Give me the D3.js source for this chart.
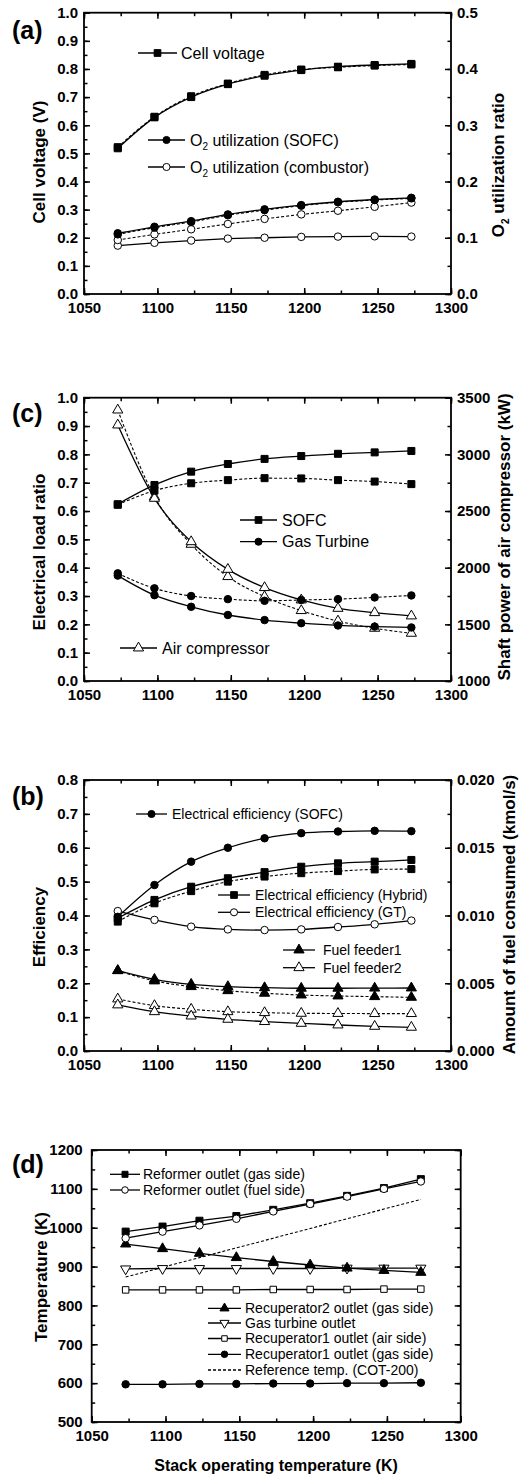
<!DOCTYPE html>
<html>
<head>
<meta charset="utf-8">
<script src="https://cdn.jsdelivr.net/npm/d3@7"></script>
<style>
  body { margin: 0; background: #fff; }
</style>
</head>
<body>
<script>
// ---- data ----
var stackTemp = [1073, 1098, 1123, 1148, 1173, 1198, 1223, 1248, 1273];

// (a) cell voltage (V, left) and O2 utilization ratio (right)
var cellVoltSolid  = [0.518, 0.628, 0.700, 0.746, 0.776, 0.796, 0.808, 0.814, 0.818];
var cellVoltDashed = [0.522, 0.630, 0.703, 0.748, 0.779, 0.798, 0.806, 0.812, 0.816];
var o2SofcSolid    = [0.108, 0.1195, 0.1295, 0.1415, 0.1505, 0.158, 0.164, 0.168, 0.171];
var o2SofcDashed   = [0.106, 0.118, 0.128, 0.140, 0.149, 0.157, 0.163, 0.167, 0.170];
var o2CombSolid    = [0.086, 0.091, 0.095, 0.0985, 0.100, 0.1015, 0.102, 0.1025, 0.102];
var o2CombDashed   = [0.096, 0.106, 0.115, 0.1245, 0.1335, 0.1415, 0.148, 0.155, 0.1625];

// (c) electrical load ratio (left) and shaft power of air compressor (kW, right)
var sofcLoadSolid  = [0.624, 0.692, 0.739, 0.766, 0.784, 0.794, 0.802, 0.807, 0.812];
var sofcLoadDashed = [0.622, 0.672, 0.698, 0.709, 0.716, 0.715, 0.709, 0.704, 0.695];
var gtLoadSolid    = [0.372, 0.303, 0.262, 0.233, 0.215, 0.204, 0.196, 0.192, 0.189];
var gtLoadDashed   = [0.380, 0.327, 0.300, 0.289, 0.283, 0.286, 0.289, 0.295, 0.302];
var airCompSolid   = [3259, 2612, 2229, 1985, 1824, 1715, 1641, 1603, 1574];
var airCompDashed  = [3391, 2626, 2206, 1921, 1744, 1621, 1529, 1465, 1421];

// (b) efficiency (left) and amount of fuel consumed (kmol/s, right)
var effSofc         = [0.396, 0.490, 0.559, 0.600, 0.628, 0.643, 0.648, 0.650, 0.649];
var effHybridSolid  = [0.392, 0.446, 0.485, 0.510, 0.528, 0.544, 0.554, 0.559, 0.564];
var effHybridDashed = [0.382, 0.436, 0.472, 0.500, 0.515, 0.525, 0.531, 0.536, 0.537];
var effGt           = [0.413, 0.387, 0.367, 0.359, 0.357, 0.359, 0.366, 0.374, 0.385];
var feeder1Solid    = [0.00593, 0.00529, 0.00492, 0.00475, 0.00467, 0.00463, 0.00463, 0.00464, 0.00465];
var feeder1Dashed   = [0.00593, 0.00517, 0.00475, 0.00445, 0.00426, 0.00413, 0.00406, 0.00401, 0.00396];
var feeder2Solid    = [0.00340, 0.00290, 0.00258, 0.00234, 0.00217, 0.00204, 0.00192, 0.00182, 0.00175];
var feeder2Dashed   = [0.00384, 0.00335, 0.00308, 0.00290, 0.00283, 0.00278, 0.00277, 0.00276, 0.00276];

// (d) temperatures (K)
var reformerGas  = [990, 1003, 1018, 1030, 1046, 1063, 1082, 1102, 1125];
var reformerFuel = [973, 990, 1006, 1023, 1042, 1061, 1080, 1100, 1119];
var recup2Gas    = [958, 946, 934, 923, 913, 904, 896, 890, 885];
var gtOutlet     = [894, 895, 895, 895, 895, 895, 896, 896, 896];
var recup1Air    = [840, 840, 840, 840, 841, 841, 841, 842, 842];
var recup1Gas    = [597, 597, 598, 598, 599, 599, 600, 600, 601];
var refTemp      = [873, 898, 923, 948, 973, 998, 1023, 1048, 1073];

var xTickLabels = [1050, 1100, 1150, 1200, 1250, 1300];

// ---- drawing ----
var FONT = "'Liberation Sans', Arial, Helvetica, sans-serif";

var svg = d3.select("body").append("svg")
    .attr("width", 524)
    .attr("height", 1475)
    .style("font-family", FONT);

function steps(d0, d1, step) {
    var n = Math.round((d1 - d0) / step);
    return d3.range(n + 1).map(function (i) { return +(d0 + i * step).toFixed(6); });
}

function styleAxis(sel, size) {
    sel.attr("font-family", null).attr("font-size", null);
    sel.select(".domain").remove();
    sel.selectAll(".tick line").attr("stroke", "#000").attr("stroke-width", 1.5);
    sel.selectAll(".tick text")
        .attr("fill", "#000")
        .style("font-size", (size || 15) + "px")
        .style("font-weight", "bold");
}

function symbolPath(shape, size) {
    var t = {square: d3.symbolSquare, circle: d3.symbolCircle,
             triangle: d3.symbolTriangle, triangleDown: d3.symbolTriangle}[shape];
    return d3.symbol().type(t).size(size)();
}

function drawMarker(g, shape, filled, size, cx, cy) {
    g.append("path")
        .attr("d", symbolPath(shape, size))
        .attr("transform", "translate(" + cx + "," + cy + ")" + (shape === "triangleDown" ? " rotate(180)" : ""))
        .attr("fill", filled ? "#000" : "#fff")
        .attr("stroke", "#000")
        .attr("stroke-width", 1);
}

// box: left,right,top,bottom ; y/y2: {domain, step, fmt}
function makePanel(box, y, y2) {
    var g = svg.append("g");
    var x = d3.scaleLinear().domain([1050, 1300]).range([box.left, box.right]);
    var yL = d3.scaleLinear().domain(y.domain).range([box.bottom, box.top]);
    var yR = y2 ? d3.scaleLinear().domain(y2.domain).range([box.bottom, box.top]) : null;

    var xMaj = xTickLabels, xMin = steps(1050, 1300, 25);
    var yMaj = steps(y.domain[0], y.domain[1], y.step);
    var yMin = steps(y.domain[0], y.domain[1], y.step / 2);

    // x axes (bottom labelled, top unlabelled), ticks inward
    g.append("g").attr("transform", "translate(0," + box.bottom + ")")
        .call(d3.axisBottom(x).tickValues(xMin).tickSize(-3.5).tickFormat(""))
        .call(styleAxis);
    g.append("g").attr("transform", "translate(0," + box.bottom + ")")
        .call(d3.axisBottom(x).tickValues(xMaj).tickSize(-6).tickPadding(8).tickFormat(d3.format("d")))
        .call(styleAxis);
    g.append("g").attr("transform", "translate(0," + box.top + ")")
        .call(d3.axisTop(x).tickValues(xMin).tickSize(-3.5).tickFormat(""))
        .call(styleAxis);
    g.append("g").attr("transform", "translate(0," + box.top + ")")
        .call(d3.axisTop(x).tickValues(xMaj).tickSize(-6).tickFormat(""))
        .call(styleAxis);

    // left axis
    g.append("g").attr("transform", "translate(" + box.left + ",0)")
        .call(d3.axisLeft(yL).tickValues(yMin).tickSize(-3.5).tickFormat(""))
        .call(styleAxis);
    g.append("g").attr("transform", "translate(" + box.left + ",0)")
        .call(d3.axisLeft(yL).tickValues(yMaj).tickSize(-6).tickPadding(y.pad || 6).tickFormat(d3.format(y.fmt)))
        .call(styleAxis);

    // right axis
    var rScale = yR || yL, rDef = y2 || y;
    var rMaj = steps(rDef.domain[0], rDef.domain[1], rDef.step);
    var rMin = steps(rDef.domain[0], rDef.domain[1], rDef.step / 2);
    g.append("g").attr("transform", "translate(" + box.right + ",0)")
        .call(d3.axisRight(rScale).tickValues(rMin).tickSize(-3.5).tickFormat(""))
        .call(styleAxis);
    g.append("g").attr("transform", "translate(" + box.right + ",0)")
        .call(d3.axisRight(rScale).tickValues(rMaj).tickSize(-6).tickPadding(6)
            .tickFormat(y2 ? d3.format(y2.fmt) : ""))
        .call(styleAxis);

    g.append("rect")
        .attr("x", box.left).attr("y", box.top)
        .attr("width", box.right - box.left).attr("height", box.bottom - box.top)
        .attr("fill", "none").attr("stroke", "#000").attr("stroke-width", 1.8);

    return {g: g, x: x, yL: yL, yR: yR};
}

// series: {values, axis:'L'|'R', dashed, shape, filled, size, curve}
function drawSeries(p, list) {
    var lines = p.g.append("g"), marks = p.g.append("g");
    list.forEach(function (s) {
        var ys = s.axis === "R" ? p.yR : p.yL;
        var pts = stackTemp.map(function (t, i) { return [t, s.values[i]]; });
        var line = d3.line()
            .x(function (d) { return p.x(d[0]); })
            .y(function (d) { return ys(d[1]); })
            .curve(s.curve || d3.curveMonotoneX);
        lines.append("path")
            .datum(pts)
            .attr("d", line)
            .attr("fill", "none")
            .attr("stroke", "#000")
            .attr("stroke-width", s.dashed ? 1.1 : 1.3)
            .attr("stroke-dasharray", s.dashed ? "3,2" : null);
        if (s.shape) {
            pts.forEach(function (d) {
                drawMarker(marks, s.shape, s.filled, s.size || 45, p.x(d[0]), ys(d[1]));
            });
        }
    });
}

// legend row; parts = [{t, sub}]
function legendRow(x1, x2, tx, y, parts, shape, filled, fs, opt) {
    opt = opt || {};
    var g = svg.append("g");
    g.append("line")
        .attr("x1", x1).attr("x2", x2).attr("y1", y).attr("y2", y)
        .attr("stroke", "#000").attr("stroke-width", 1.3)
        .attr("stroke-dasharray", opt.dashed ? "3,2" : null);
    if (shape) drawMarker(g, shape, filled, opt.size || 40, (x1 + x2) / 2, y);
    var t = g.append("text")
        .attr("x", tx).attr("y", y + fs * 0.35)
        .style("font-size", fs + "px")
        .attr("fill", "#000");
    addParts(t, parts, fs);
}

function addParts(t, parts, fs) {
    if (typeof parts === "string") { t.text(parts); return; }
    var shift = 0;
    parts.forEach(function (p) {
        var sp = t.append("tspan").text(p.t);
        if (p.sub) {
            sp.style("font-size", Math.round(fs * 0.6) + "px").attr("dy", fs * 0.3 - shift);
            shift = fs * 0.3;
        } else {
            sp.attr("dy", -shift);
            shift = 0;
        }
    });
}

function axisTitle(x, y, parts, fs, rotate) {
    var t = svg.append("text")
        .attr("text-anchor", "middle")
        .attr("transform", "translate(" + x + "," + y + ")" + (rotate ? " rotate(-90)" : ""))
        .style("font-size", fs + "px")
        .style("font-weight", "bold")
        .attr("fill", "#000");
    addParts(t, parts, fs);
}

function panelLabel(x, y, txt) {
    svg.append("text")
        .attr("x", x).attr("y", y)
        .style("font-size", "25px").style("font-weight", "bold")
        .attr("fill", "#000")
        .text(txt);
}

// ---------- (a) ----------
var pa = makePanel({left: 84, right: 451, top: 12.7, bottom: 294},
    {domain: [0, 1], step: 0.1, fmt: ".1f"},
    {domain: [0, 0.5], step: 0.1, fmt: ".1f"});
drawSeries(pa, [
    {values: cellVoltDashed, dashed: true, shape: "square", filled: true, size: 49},
    {values: cellVoltSolid, shape: "square", filled: true, size: 49},
    {values: o2CombSolid, axis: "R", shape: "circle", filled: false, size: 44, curve: d3.curveLinear},
    {values: o2CombDashed, axis: "R", dashed: true, shape: "circle", filled: false, size: 44, curve: d3.curveLinear},
    {values: o2SofcDashed, axis: "R", dashed: true, shape: "circle", filled: true, size: 44},
    {values: o2SofcSolid, axis: "R", shape: "circle", filled: true, size: 44}
]);
legendRow(138, 177, 181, 53, "Cell voltage", "square", true, 16, {size: 45});
legendRow(148, 185, 190, 140, [{t: "O"}, {t: "2", sub: true}, {t: " utilization (SOFC)"}], "circle", true, 16);
legendRow(148, 185, 190, 167, [{t: "O"}, {t: "2", sub: true}, {t: " utilization (combustor)"}], "circle", false, 16);
axisTitle(45, 162, "Cell voltage (V)", 17, true);
axisTitle(504, 165, [{t: "O"}, {t: "2", sub: true}, {t: " utilization ratio"}], 17, true);
panelLabel(12, 39, "(a)");

// ---------- (c) ----------
var pc = makePanel({left: 84, right: 451, top: 397.7, bottom: 681},
    {domain: [0, 1], step: 0.1, fmt: ".1f"},
    {domain: [1000, 3500], step: 500, fmt: "d"});
drawSeries(pc, [
    {values: airCompDashed, axis: "R", dashed: true, shape: "triangle", filled: false, size: 45},
    {values: airCompSolid, axis: "R", shape: "triangle", filled: false, size: 45},
    {values: sofcLoadDashed, dashed: true, shape: "square", filled: true, size: 49},
    {values: sofcLoadSolid, shape: "square", filled: true, size: 49},
    {values: gtLoadDashed, dashed: true, shape: "circle", filled: true, size: 44},
    {values: gtLoadSolid, shape: "circle", filled: true, size: 44}
]);
legendRow(240, 277, 282, 520, "SOFC", "square", true, 16, {size: 45});
legendRow(240, 277, 282, 541.7, "Gas Turbine", "circle", true, 16);
legendRow(120, 157, 162, 648, "Air compressor", "triangle", false, 16, {size: 45});
axisTitle(45, 552, "Electrical load ratio", 17, true);
axisTitle(510, 537, "Shaft power of air compressor (kW)", 17, true);
panelLabel(12, 422, "(c)");

// ---------- (b) ----------
var pb = makePanel({left: 84, right: 451, top: 780, bottom: 1051},
    {domain: [0, 0.8], step: 0.1, fmt: ".1f"},
    {domain: [0, 0.02], step: 0.005, fmt: ".3f"});
drawSeries(pb, [
    {values: feeder2Dashed, axis: "R", dashed: true, shape: "triangle", filled: false, size: 45},
    {values: feeder2Solid, axis: "R", shape: "triangle", filled: false, size: 45},
    {values: feeder1Dashed, axis: "R", dashed: true, shape: "triangle", filled: true, size: 45},
    {values: feeder1Solid, axis: "R", shape: "triangle", filled: true, size: 45},
    {values: effGt, shape: "circle", filled: false, size: 44},
    {values: effSofc, shape: "circle", filled: true, size: 44},
    {values: effHybridDashed, dashed: true, shape: "square", filled: true, size: 49},
    {values: effHybridSolid, shape: "square", filled: true, size: 49}
]);
legendRow(136, 167, 172, 814, "Electrical efficiency (SOFC)", "circle", true, 14);
legendRow(218, 250, 255, 895, "Electrical efficiency (Hybrid)", "square", true, 14, {size: 45});
legendRow(218, 250, 255, 912.3, "Electrical efficiency (GT)", "circle", false, 14);
legendRow(283, 315, 323, 950, "Fuel feeder1", "triangle", true, 14, {size: 45});
legendRow(283, 315, 323, 967.7, "Fuel feeder2", "triangle", false, 14, {size: 45});
axisTitle(45, 927, "Efficiency", 17, true);
axisTitle(515, 914.5, "Amount of fuel consumed (kmol/s)", 17, true);
panelLabel(12, 805, "(b)");

// ---------- (d) ----------
var pd = makePanel({left: 91.7, right: 460.7, top: 1150, bottom: 1422},
    {domain: [500, 1200], step: 100, fmt: "d", pad: 9}, null);
drawSeries(pd, [
    {values: refTemp, dashed: true, curve: d3.curveLinear},
    {values: recup1Gas, shape: "circle", filled: true, size: 44, curve: d3.curveLinear},
    {values: recup1Air, shape: "square", filled: false, size: 42, curve: d3.curveLinear},
    {values: gtOutlet, shape: "triangleDown", filled: false, size: 45, curve: d3.curveLinear},
    {values: recup2Gas, shape: "triangle", filled: true, size: 45, curve: d3.curveLinear},
    {values: reformerGas, shape: "square", filled: true, size: 49, curve: d3.curveLinear},
    {values: reformerFuel, shape: "circle", filled: false, size: 44, curve: d3.curveLinear}
]);
legendRow(110, 140, 143, 1174.3, "Reformer outlet (gas side)", "square", true, 14, {size: 36});
legendRow(110, 140, 143, 1190, "Reformer outlet (fuel side)", "circle", false, 14, {size: 34});
legendRow(208, 241, 245, 1308.3, "Recuperator2 outlet (gas side)", "triangle", true, 14, {size: 36});
legendRow(208, 241, 245, 1323, "Gas turbine outlet", "triangleDown", false, 14, {size: 36});
legendRow(208, 241, 245, 1338.5, "Recuperator1 outlet (air side)", "square", false, 14, {size: 30});
legendRow(208, 241, 245, 1354.3, "Recuperator1 outlet (gas side)", "circle", true, 14, {size: 34});
legendRow(208, 241, 245, 1370, "Reference temp. (COT-200)", null, false, 14, {dashed: true});
axisTitle(47, 1277, "Temperature (K)", 17, true);
axisTitle(276, 1471, "Stack operating temperature (K)", 16, false);
panelLabel(12, 1173, "(d)");
</script>
</body>
</html>
